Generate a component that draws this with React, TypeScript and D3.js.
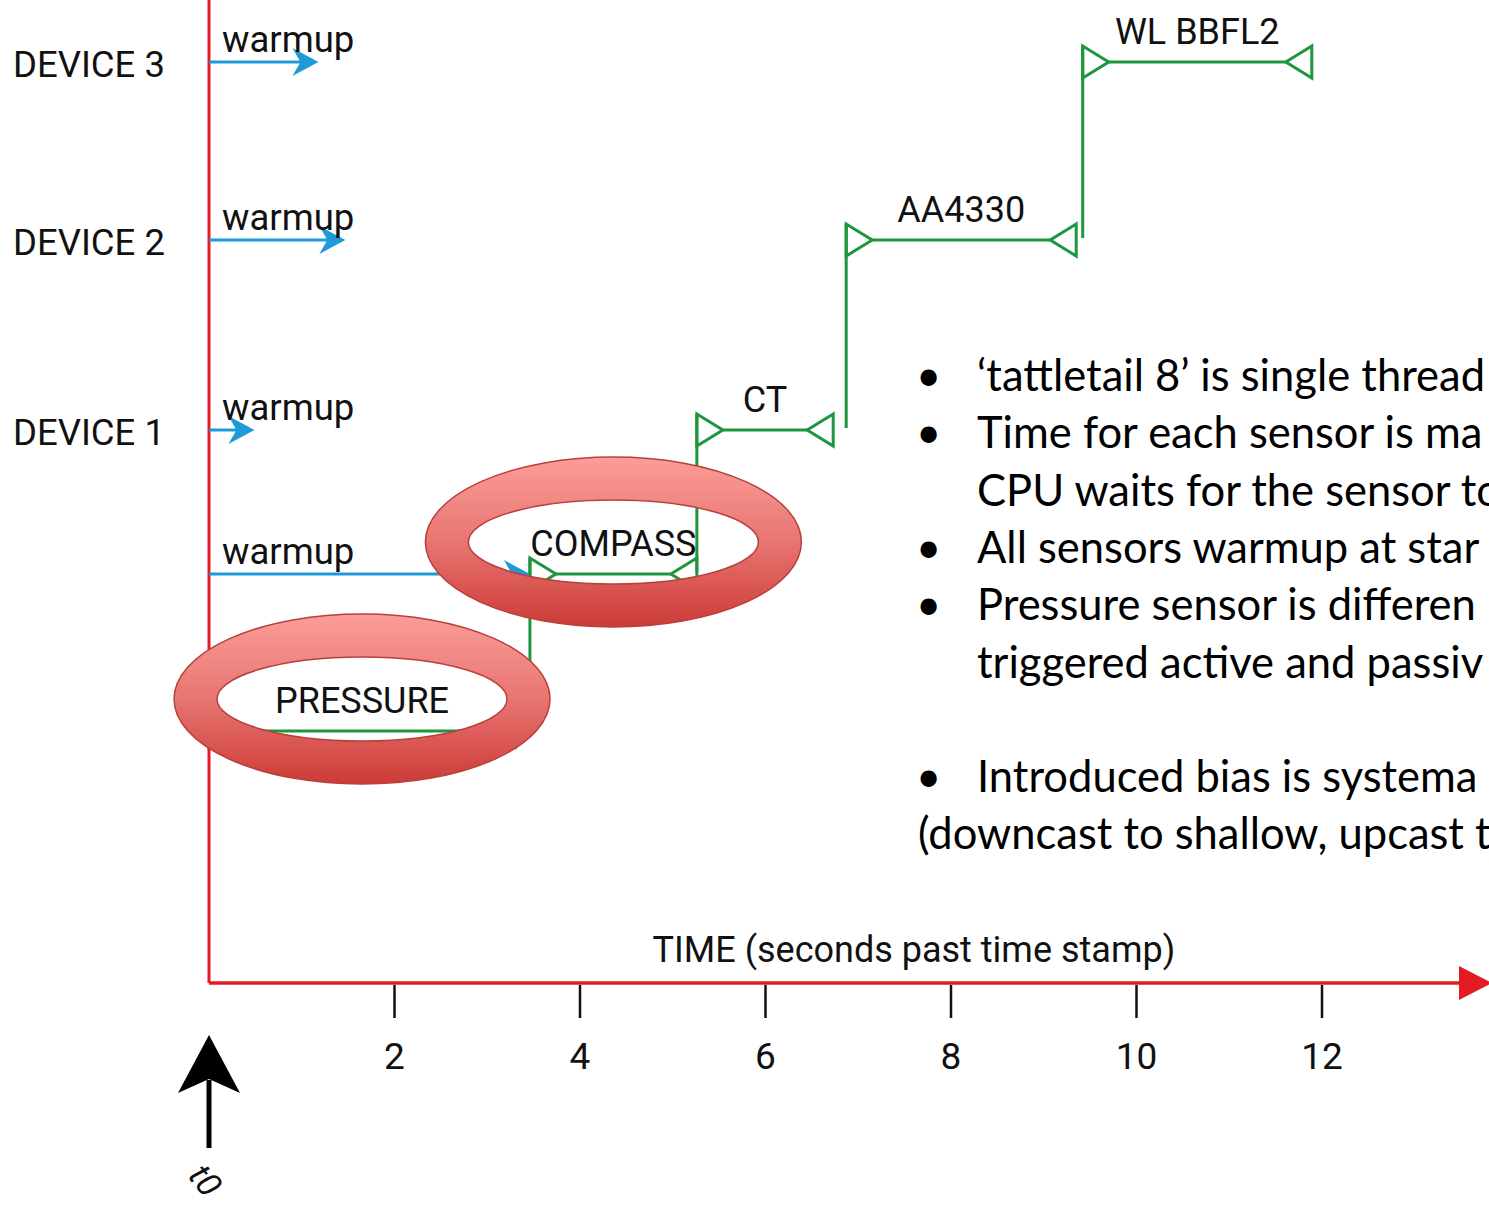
import React, { useRef, useEffect } from "react";
import * as d3 from "d3";

// lanes from bottom to top
const lanes = ["PRESSURE", "CPU", "DEVICE 1", "DEVICE 2", "DEVICE 3"];
const deviceLabels = ["DEVICE 1", "DEVICE 2", "DEVICE 3"];

// warmup arrows (seconds)
const warmupLanes = ["CPU", "DEVICE 1", "DEVICE 2", "DEVICE 3"];
const warmupEnd = [3.46, 0.49, 1.47, 1.18];

// sensor reads (seconds)
const sensorNames = ["PRESSURE", "COMPASS", "CT", "AA4330", "WL BBFL2"];
const sensorLane = ["PRESSURE", "CPU", "DEVICE 1", "DEVICE 2", "DEVICE 3"];
const sensorStart = [0, 3.46, 5.26, 6.87, 9.42];
const sensorEnd = [3.3, 5.26, 6.73, 9.35, 11.89];
const highlighted = ["PRESSURE", "COMPASS"];

const timeTicks = [2, 4, 6, 8, 10, 12];
const axisTitle = "TIME (seconds past time stamp)";

// notes as far as they are visible on the slide
const noteLines = [
  "\u2018tattletail 8\u2019 is single thread",
  "Time for each sensor is ma",
  "CPU waits for the sensor to",
  "All sensors warmup at star",
  "Pressure sensor is differen",
  "triggered active and passiv",
  "",
  "Introduced bias is systema",
  "(downcast to shallow, upcast t",
];
const noteBullet = [true, true, false, true, true, false, false, true, false];
const noteIndent = [true, true, true, true, true, true, false, true, false];

const W = 1489;
const H = 1209;
const FONT = "Roboto, 'Liberation Sans', sans-serif";
const GREEN = "#1f963c";
const BLUE = "#1e9ad8";
const RED = "#e31b23";

const App = () => {
  const ref = useRef<SVGSVGElement>(null);

  useEffect(() => {
    const svg = d3.select(ref.current);
    svg.selectAll("*").remove();

    const x = d3.scaleLinear().domain([0, 12]).range([209, 1322]);
    const y = d3
      .scaleOrdinal<string, number>()
      .domain(lanes)
      .range([731, 574, 430, 240, 62]);
    const axisY = 983;

    const defs = svg.append("defs");
    const grad = defs
      .append("linearGradient")
      .attr("id", "ring")
      .attr("x1", 0)
      .attr("y1", 0)
      .attr("x2", 0)
      .attr("y2", 1);
    grad.append("stop").attr("offset", "0%").attr("stop-color", "#fb9d99");
    grad.append("stop").attr("offset", "50%").attr("stop-color", "#e87571");
    grad.append("stop").attr("offset", "100%").attr("stop-color", "#cc3b37");

    // axes
    svg
      .append("line")
      .attr("x1", x(0))
      .attr("x2", x(0))
      .attr("y1", 0)
      .attr("y2", axisY)
      .attr("stroke", RED)
      .attr("stroke-width", 3);
    svg
      .append("line")
      .attr("x1", x(0))
      .attr("x2", W - 25)
      .attr("y1", axisY)
      .attr("y2", axisY)
      .attr("stroke", RED)
      .attr("stroke-width", 3.5);
    svg
      .append("path")
      .attr("d", `M${W - 30},${axisY - 17}L${W + 3},${axisY}L${W - 30},${axisY + 17}Z`)
      .attr("fill", RED);

    const ticks = svg.append("g");
    ticks
      .selectAll("line")
      .data(timeTicks)
      .join("line")
      .attr("x1", (d) => x(d))
      .attr("x2", (d) => x(d))
      .attr("y1", axisY + 2)
      .attr("y2", axisY + 35)
      .attr("stroke", "#111")
      .attr("stroke-width", 2.5);
    ticks
      .selectAll("text")
      .data(timeTicks)
      .join("text")
      .attr("x", (d) => x(d))
      .attr("y", axisY + 86)
      .attr("text-anchor", "middle")
      .attr("font-family", FONT)
      .attr("font-size", 37)
      .attr("fill", "#111")
      .text((d) => d);

    svg
      .append("text")
      .attr("x", x(7.6))
      .attr("y", axisY - 21)
      .attr("text-anchor", "middle")
      .attr("font-family", FONT)
      .attr("font-size", 36)
      .attr("fill", "#111")
      .text(axisTitle);

    // t0 marker
    svg
      .append("line")
      .attr("x1", x(0))
      .attr("x2", x(0))
      .attr("y1", 1148)
      .attr("y2", 1080)
      .attr("stroke", "#000")
      .attr("stroke-width", 5);
    svg
      .append("path")
      .attr("d", `M${x(0)},1035L${x(0) + 31},1093L${x(0)},1079L${x(0) - 31},1093Z`)
      .attr("fill", "#000");
    svg
      .append("text")
      .attr("transform", `translate(${x(0) - 22},1176) rotate(52)`)
      .attr("font-family", FONT)
      .attr("font-style", "italic")
      .attr("font-size", 34)
      .attr("fill", "#111")
      .text("t0");

    // device labels
    svg
      .append("g")
      .selectAll("text")
      .data(deviceLabels)
      .join("text")
      .attr("x", 13)
      .attr("y", (d) => y(d) + 15)
      .attr("font-family", FONT)
      .attr("font-size", 36.5)
      .attr("fill", "#111")
      .text((d) => d);

    // warmup arrows
    const warm = svg.append("g");
    warm
      .selectAll("line")
      .data(warmupLanes)
      .join("line")
      .attr("x1", x(0))
      .attr("x2", (d, i) => x(warmupEnd[i]) - 8)
      .attr("y1", (d) => y(d))
      .attr("y2", (d) => y(d))
      .attr("stroke", BLUE)
      .attr("stroke-width", 3);
    warm
      .selectAll("path")
      .data(warmupLanes)
      .join("path")
      .attr("d", (d, i) => {
        const xe = x(warmupEnd[i]);
        const yy = y(d);
        return `M${xe},${yy}L${xe - 26},${yy - 14}L${xe - 18},${yy}L${xe - 26},${yy + 14}Z`;
      })
      .attr("fill", BLUE);
    warm
      .selectAll("text")
      .data(warmupLanes)
      .join("text")
      .attr("x", x(0) + 13)
      .attr("y", (d) => y(d) - 10)
      .attr("font-family", FONT)
      .attr("font-size", 36.5)
      .attr("fill", "#111")
      .text("warmup");

    // sensor reads
    const sens = svg.append("g").attr("fill", "none").attr("stroke", GREEN).attr("stroke-width", 3);
    sensorNames.forEach((name, i) => {
      const x0 = x(sensorStart[i]);
      const x1 = x(sensorEnd[i]);
      const yy = y(sensorLane[i]);
      sens.append("line").attr("x1", x0 + 26).attr("x2", x1 - 26).attr("y1", yy).attr("y2", yy);
      sens.append("path").attr("d", `M${x0},${yy - 16}L${x0 + 26},${yy}L${x0},${yy + 16}Z`);
      sens.append("path").attr("d", `M${x1},${yy - 16}L${x1 - 26},${yy}L${x1},${yy + 16}Z`);
      if (i > 0) {
        sens
          .append("line")
          .attr("x1", x0)
          .attr("x2", x0)
          .attr("y1", y(sensorLane[i - 1]) - 2)
          .attr("y2", yy - 16);
      }
    });
    svg
      .append("g")
      .selectAll("text")
      .data(sensorNames)
      .join("text")
      .attr("x", (d, i) => (x(sensorStart[i]) + x(sensorEnd[i])) / 2)
      .attr("y", (d, i) => y(sensorLane[i]) - 18)
      .attr("text-anchor", "middle")
      .attr("font-family", FONT)
      .attr("font-size", 36)
      .attr("fill", "#111")
      .text((d) => d);

    // highlight rings
    const ellipse = (cx: number, cy: number, rx: number, ry: number) =>
      `M${cx - rx},${cy}A${rx},${ry} 0 1,0 ${cx + rx},${cy}A${rx},${ry} 0 1,0 ${cx - rx},${cy}Z`;
    svg
      .append("g")
      .selectAll("path")
      .data(highlighted)
      .join("path")
      .attr("d", (d) => {
        const i = sensorNames.indexOf(d);
        const cx = (x(sensorStart[i]) + x(sensorEnd[i])) / 2;
        const cy = y(sensorLane[i]) - 32;
        return ellipse(cx, cy, 188, 85) + ellipse(cx, cy, 145, 42);
      })
      .attr("fill", "url(#ring)")
      .attr("fill-rule", "evenodd")
      .attr("stroke", "#b8403c")
      .attr("stroke-width", 1.5);

    // notes
    const notes = svg
      .append("g")
      .attr("font-family", "Lato, 'Open Sans', sans-serif")
      .attr("font-size", 43.5)
      .attr("fill", "#000");
    noteLines.forEach((line, i) => {
      const yy = 391 + i * 57.3;
      if (noteBullet[i]) notes.append("text").attr("x", 916).attr("y", yy).text("\u2022");
      if (line) notes.append("text").attr("x", noteIndent[i] ? 977 : 918).attr("y", yy).text(line);
    });
  }, []);

  return (
    <svg
      ref={ref}
      width={W}
      height={H}
      style={{ position: "absolute", left: 0, top: 0, background: "#fff", overflow: "hidden" }}
    ></svg>
  );
};

export default App;
